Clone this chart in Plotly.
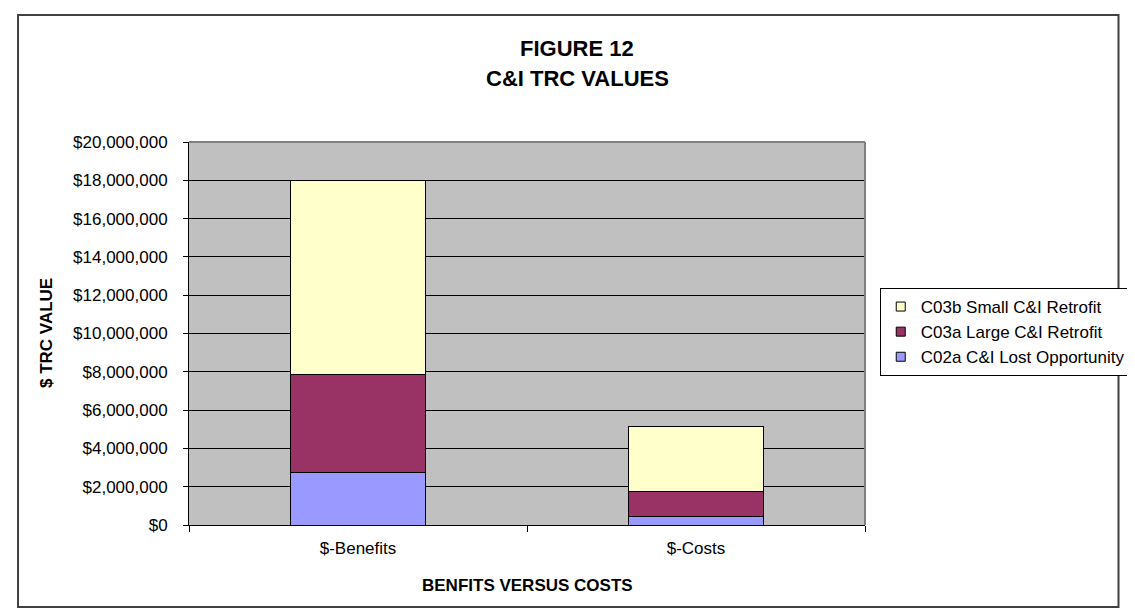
import plotly.graph_objects as go

categories = ["$-Benefits", "$-Costs"]
series_names = ["C02a C&I Lost Opportunity", "C03a Large C&I Retrofit", "C03b Small C&I Retrofit"]
lost_opportunity = [2720000, 450000]
large_retrofit = [5140000, 1290000]
small_retrofit = [10140000, 3380000]
series_colors = ["#9999FF", "#993366", "#FFFFCC"]
y_ticks = [0, 2000000, 4000000, 6000000, 8000000, 10000000, 12000000,
           14000000, 16000000, 18000000, 20000000]
y_tick_text = ["${:,}".format(v) for v in y_ticks]

FONT = "Liberation Sans, Arial, sans-serif"
W, H = 1135, 608
L, R, T, B = 181, 869, 134, 517


def px_x(x):
    return (x - L) / (R - L)


def px_y(y):
    return (B - y) / (B - T)


fig = go.Figure()
for name, vals, col in zip(series_names, [lost_opportunity, large_retrofit, small_retrofit], series_colors):
    fig.add_trace(go.Bar(
        x=categories, y=vals, name=name, legendgroup=name, showlegend=False,
        marker=dict(color=col, line=dict(color="#000000", width=1)),
        width=0.4,
    ))
# legend entries with small square swatches
for name, col in zip(series_names, series_colors):
    fig.add_trace(go.Scatter(
        x=[None], y=[None], mode="markers", name=name, legendgroup=name,
        marker=dict(symbol="square", size=9, color=col,
                    line=dict(color="#000000", width=1)),
        hoverinfo="skip",
    ))

fig.update_layout(
    width=W, height=H, autosize=False,
    margin=dict(l=L, r=W - R, t=T, b=H - B, pad=0),
    barmode="stack",
    paper_bgcolor="#FFFFFF",
    plot_bgcolor="#C0C0C0",
    font=dict(family=FONT, size=17, color="#000000"),
    showlegend=True,
    legend=dict(
        traceorder="reversed",
        x=px_x(884), xanchor="left",
        y=px_y(280), yanchor="top",
        bordercolor="#000000", borderwidth=1,
        bgcolor="#FFFFFF",
        font=dict(family=FONT, size=17, color="#000000"),
        itemwidth=30,
        tracegroupgap=0,
    ),
    xaxis=dict(
        type="category",
        categoryorder="array", categoryarray=categories,
        showgrid=False,
        showline=True, linecolor="#000000", linewidth=1,
        ticks="outside", tickson="boundaries", ticklen=6, tickcolor="#000000",
        tickfont=dict(family=FONT, size=17),
        ticklabelstandoff=8,
        fixedrange=True,
    ),
    yaxis=dict(
        range=[0, 20000000],
        tickmode="array", tickvals=y_ticks, ticktext=y_tick_text,
        showgrid=True, gridcolor="#000000", gridwidth=1,
        showline=True, linecolor="#000000", linewidth=1,
        ticks="outside", ticklen=5, tickcolor="#000000",
        tickfont=dict(family=FONT, size=17),
        ticklabelstandoff=12,
        zeroline=False,
        fixedrange=True,
    ),
    shapes=[
        # outer chart frame
        dict(type="rect", xref="paper", yref="paper",
             x0=px_x(7), x1=px_x(1127), y0=px_y(599), y1=px_y(7),
             line=dict(color="#404040", width=2), layer="below"),
        # plot area border (top and right)
        dict(type="line", xref="paper", yref="paper", x0=0, x1=1, y0=1, y1=1,
             line=dict(color="#808080", width=2), layer="above"),
        dict(type="line", xref="paper", yref="paper", x0=1, x1=1, y0=0, y1=1,
             line=dict(color="#808080", width=2), layer="above"),
    ],
    annotations=[
        dict(text="<b>FIGURE 12</b>", xref="paper", yref="paper",
             x=px_x(576), y=px_y(40), xanchor="center", yanchor="middle",
             showarrow=False, font=dict(family=FONT, size=22)),
        dict(text="<b>C&I TRC VALUES</b>", xref="paper", yref="paper",
             x=px_x(576), y=px_y(70), xanchor="center", yanchor="middle",
             showarrow=False, font=dict(family=FONT, size=22)),
        dict(text="<b>BENFITS VERSUS COSTS</b>", xref="paper", yref="paper",
             x=0.5, y=px_y(577), xanchor="center", yanchor="middle",
             showarrow=False, font=dict(family=FONT, size=17)),
        dict(text="<b>$ TRC VALUE</b>", xref="paper", yref="paper",
             x=px_x(36), y=0.5, xanchor="center", yanchor="middle",
             textangle=-90, showarrow=False, font=dict(family=FONT, size=17)),
    ],
)

fig.write_html("out.html", config={"displayModeBar": False})
